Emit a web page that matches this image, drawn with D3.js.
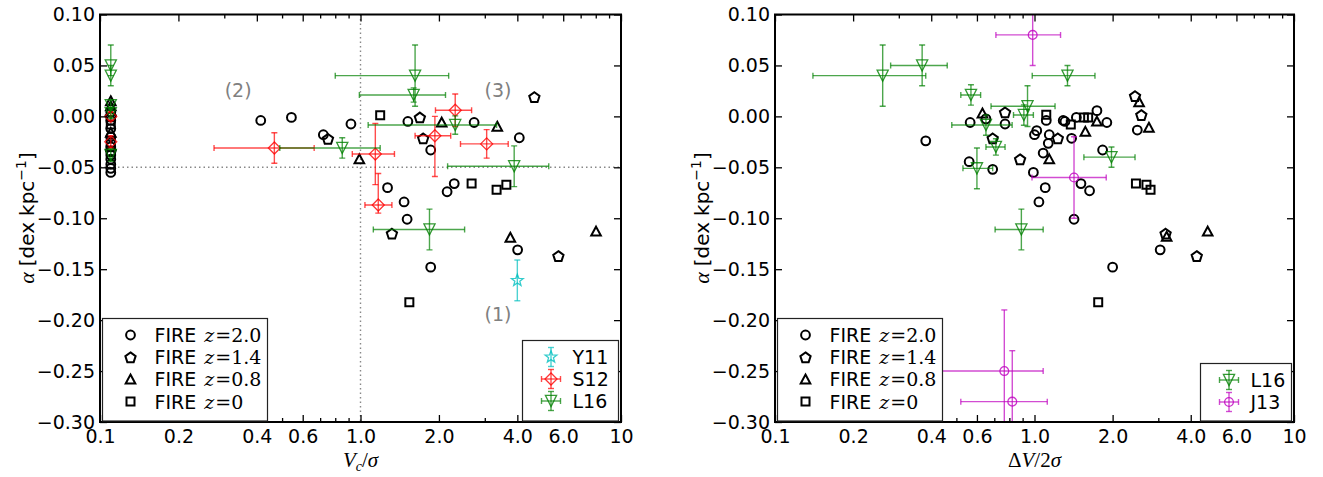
<!DOCTYPE html>
<html>
<head>
<meta charset="utf-8">
<script src="https://cdn.jsdelivr.net/npm/d3@7"></script>
<style>
body { margin: 0; background: #fff; }
text { font-family: "DejaVu Sans", sans-serif; }
</style>
</head>
<body>
<svg id="chart" width="1323" height="477"></svg>
<script>
// tick values shared by both panels
var xTickValues = [0.1, 0.2, 0.4, 0.6, 1, 2, 4, 6, 10];
var xTickLabels = ["0.1", "0.2", "0.4", "0.6", "1.0", "2.0", "4.0", "6.0", "10"];
var xMinorValues = [0.3, 0.5, 0.7, 0.8, 0.9, 3, 5, 7, 8, 9];
var yTickValues = [0.10, 0.05, 0.00, -0.05, -0.10, -0.15, -0.20, -0.25, -0.30];
var yTickLabels = ["0.10", "0.05", "0.00", "\u22120.05", "\u22120.10", "\u22120.15", "\u22120.20", "\u22120.25", "\u22120.30"];
var fireRedshifts = ["2.0", "1.4", "0.8", "0"];

// left panel, alpha vs Vc/sigma. FIRE points are [x, alpha]
var fireZ20_vc = [[0.11, 0.004], [0.11, -0.004], [0.11, -0.012], [0.11, -0.02], [0.11, -0.03], [0.11, -0.038],
  [0.11, -0.042], [0.11, -0.047], [0.11, -0.051], [0.11, -0.055],
  [0.414, -0.004], [0.543, -0.001], [0.72, -0.018], [0.919, -0.0075], [1.52, -0.005], [2.73, -0.006],
  [4.07, -0.021], [1.27, -0.07], [1.47, -0.084], [2.15, -0.074], [2.29, -0.066], [1.51, -0.101],
  [1.86, -0.148], [4.01, -0.131], [1.86, -0.033]];
var fireZ14_vc = [[0.11, 0.0], [0.11, -0.034], [0.75, -0.022], [1.69, -0.001], [1.74, -0.0215], [4.65, 0.019],
  [1.32, -0.115], [5.75, -0.137]];
var fireZ08_vc = [[0.11, 0.015], [0.11, 0.01], [0.11, -0.016], [0.99, -0.042], [2.05, -0.006], [3.35, -0.010],
  [3.76, -0.119], [8.02, -0.113]];
var fireZ0_vc = [[0.11, -0.008], [0.11, -0.026], [1.19, 0.001], [2.67, -0.066], [3.33, -0.072], [3.63, -0.067],
  [1.54, -0.1825]];

// observations: [x, alpha, xLow, xHigh, errUp, errDown]
var y11_vc = [[4.0, -0.161, null, null, 0.02, 0.02]];
var s12_vc = [[0.11, 0.0, null, null, 0.004, 0.004], [0.11, -0.025, null, null, 0.006, 0.006],
  [0.467, -0.031, 0.274, 0.664, 0.015, 0.015], [1.14, -0.037, 0.93, 1.35, 0.030, 0.030],
  [1.17, -0.087, 1.04, 1.32, 0.031, 0.008], [1.93, -0.019, 1.62, 2.22, 0.019, 0.040],
  [2.31, 0.006, 1.94, 2.67, 0.016, 0.016], [3.05, -0.027, 2.42, 3.69, 0.014, 0.014]];
var l16_vc = [[0.11, 0.05, null, null, 0.02, 0.01], [0.11, 0.04, null, null, 0.01, 0.01],
  [0.11, 0.011, null, null, 0.005, 0.005], [0.11, 0.003, null, null, 0.005, 0.005],
  [0.11, -0.038, null, null, 0.006, 0.006], [0.851, -0.031, 0.49, 1.19, 0.01, 0.01],
  [1.62, 0.04, 0.80, 2.18, 0.03, 0.03], [1.60, 0.021, 0.99, 2.12, 0.007, 0.007],
  [2.31, -0.0085, 1.07, 3.33, 0.009, 0.009], [3.89, -0.049, 2.16, 5.28, 0.02, 0.02],
  [1.84, -0.111, 1.12, 2.51, 0.02, 0.02]];

// right panel, alpha vs dV/2sigma
var fireZ20_dv = [[0.381, -0.024], [0.565, -0.006], [0.65, -0.0025], [0.77, -0.0075], [0.56, -0.0445],
  [0.69, -0.052], [0.99, -0.055], [1.10, -0.07], [1.11, -0.004], [1.02, -0.014], [1.0, -0.018],
  [1.13, -0.0265], [1.14, -0.018], [1.08, -0.036], [1.29, -0.004], [1.31, -0.005], [1.39, -0.0215],
  [1.45, -0.001], [1.04, -0.084], [1.42, -0.101], [1.51, -0.066], [1.63, -0.073], [1.83, -0.033],
  [1.74, 0.0056], [1.90, -0.006], [2.49, -0.0134], [3.05, -0.131], [2.00, -0.148]];
var fireZ14_dv = [[0.77, 0.004], [0.69, -0.0215], [0.88, -0.042], [1.23, -0.0215], [2.44, 0.020],
  [2.58, 0.0014], [3.20, -0.115], [4.22, -0.137]];
var fireZ08_dv = [[0.63, 0.003], [1.14, -0.042], [1.74, -0.005], [1.57, -0.015], [2.53, 0.014],
  [2.76, -0.011], [3.23, -0.118], [4.65, -0.113]];
var fireZ0_dv = [[1.11, 0.0015], [1.38, -0.008], [1.55, -0.001], [1.61, -0.001], [2.46, -0.066],
  [2.70, -0.067], [2.80, -0.072], [1.76, -0.1825]];
var l16_dv = [[0.26, 0.04, 0.14, 0.381, 0.03, 0.03], [0.369, 0.05, 0.279, 0.461, 0.02, 0.02],
  [0.569, 0.021, 0.52, 0.62, 0.01, 0.01], [0.94, 0.010, 0.68, 1.20, 0.02, 0.02],
  [0.91, 0.0013, 0.83, 0.99, 0.01, 0.01], [1.34, 0.04, 0.98, 1.71, 0.01, 0.01],
  [0.65, -0.0085, 0.48, 0.82, 0.01, 0.01], [0.71, -0.03, 0.65, 0.77, 0.008, 0.008],
  [0.60, -0.051, 0.53, 0.69, 0.02, 0.02], [1.98, -0.040, 1.55, 2.44, 0.01, 0.01],
  [0.89, -0.111, 0.705, 1.08, 0.02, 0.02]];
var j13_dv = [[0.984, 0.08, 0.71, 1.26, 0.03, 0.03], [1.42, -0.06, 0.978, 1.89, 0.04, 0.04],
  [0.765, -0.25, 0.42, 1.08, 0.06, 0.06], [0.821, -0.28, 0.52, 1.12, 0.05, 0.05]];

var svg = d3.select("#chart");
var plotTop = 14.5, plotBottom = 422;
var yScale = d3.scaleLinear().domain([-0.30, 0.10]).range([plotBottom, plotTop]);

var GREEN = "#008000", RED = "#ff0000", CYAN = "#00bfbf", MAGENTA = "#bf00bf";

function shapePath(shape) {
  var r, pts;
  if (shape == "circle") return d3.symbol(d3.symbolCircle, Math.PI * 4.4 * 4.4)();
  if (shape == "square") { r = 4; pts = [[-r, -r], [r, -r], [r, r], [-r, r]]; }
  if (shape == "pentagon") {
    r = 5.4;
    pts = d3.range(5).map(function (k) {
      var a = -Math.PI / 2 + k * 2 * Math.PI / 5;
      return [r * Math.cos(a), r * Math.sin(a) + 0.6];
    });
  }
  if (shape == "triUp") { r = 4.8; pts = [[0, -r], [r, r * 0.85], [-r, r * 0.85]]; }
  if (shape == "triDown") { r = 5.6; pts = [[0, r], [r, -r], [-r, -r]]; }
  if (shape == "diamond") { r = 6; pts = [[0, -r], [r, 0], [0, r], [-r, 0]]; }
  if (shape == "star") {
    pts = d3.range(10).map(function (k) {
      var a = -Math.PI / 2 + k * Math.PI / 5, rr = k % 2 ? 2.6 : 6.2;
      return [rr * Math.cos(a), rr * Math.sin(a)];
    });
  }
  return "M" + pts.map(function (p) { return p[0].toFixed(2) + "," + p[1].toFixed(2); }).join("L") + "Z";
}

function marker(layer, shape, cx, cy, color, width, opacity) {
  layer.append("path")
    .attr("d", shapePath(shape))
    .attr("transform", "translate(" + cx + "," + cy + ")")
    .attr("fill", "none")
    .attr("stroke", color)
    .attr("stroke-opacity", opacity)
    .attr("stroke-width", width);
}

function bar(layer, x1, y1, x2, y2) {
  layer.append("line").attr("x1", x1).attr("y1", y1).attr("x2", x2).attr("y2", y2);
}

function drawFire(layer, xS, data, shape) {
  data.forEach(function (d) {
    marker(layer, shape, xS(d[0]), yScale(d[1]), "#000", 2, 1);
  });
}

function drawErrors(layer, xS, data, color, shape) {
  data.forEach(function (d) {
    var cx = xS(d[0]), cy = yScale(d[1]);
    var bars = layer.append("g").attr("stroke", color).attr("stroke-opacity", 0.7).attr("stroke-width", 1.4);
    if (d[2] != null) {
      var x1 = xS(d[2]), x2 = xS(d[3]);
      bar(bars, x1, cy, x2, cy);
      bar(bars, x1, cy - 3, x1, cy + 3);
      bar(bars, x2, cy - 3, x2, cy + 3);
    }
    var y1 = yScale(d[1] + d[4]), y2 = yScale(d[1] - d[5]);
    bar(bars, cx, y1, cx, y2);
    bar(bars, cx - 3, y1, cx + 3, y1);
    bar(bars, cx - 3, y2, cx + 3, y2);
    marker(layer, shape, cx, cy, color, 1.3, 0.8);
  });
}

function makePanel(left, right, id) {
  var x = d3.scaleLog().domain([0.1, 10]).range([left, right]);
  svg.append("clipPath").attr("id", id).append("rect")
    .attr("x", left).attr("y", plotTop)
    .attr("width", right - left).attr("height", plotBottom - plotTop);
  var g = svg.append("g");
  var plot = g.append("g").attr("clip-path", "url(#" + id + ")");
  return { x: x, g: g, plot: plot, left: left, right: right };
}

function styleAxis(sel) {
  sel.select(".domain").remove();
  sel.selectAll("line").attr("stroke", "#000").attr("stroke-width", 1.3);
  sel.selectAll("text").attr("font-size", 19).attr("font-family", "DejaVu Sans").attr("fill", "#000");
}

function drawAxes(p) {
  var fmt = function (d, i) { return xTickLabels[i]; };
  p.g.append("g").attr("transform", "translate(0," + plotBottom + ")")
    .call(d3.axisBottom(p.x).tickValues(xTickValues).tickFormat(fmt).tickSizeInner(-7).tickSizeOuter(0).tickPadding(8))
    .call(styleAxis);
  p.g.append("g").attr("transform", "translate(0," + plotBottom + ")")
    .call(d3.axisBottom(p.x).tickValues(xMinorValues).tickFormat("").tickSizeInner(-4).tickSizeOuter(0))
    .call(styleAxis);
  p.g.append("g").attr("transform", "translate(0," + plotTop + ")")
    .call(d3.axisTop(p.x).tickValues(xTickValues).tickFormat("").tickSizeInner(-7).tickSizeOuter(0))
    .call(styleAxis);
  p.g.append("g").attr("transform", "translate(0," + plotTop + ")")
    .call(d3.axisTop(p.x).tickValues(xMinorValues).tickFormat("").tickSizeInner(-4).tickSizeOuter(0))
    .call(styleAxis);
  p.g.append("g").attr("transform", "translate(" + p.left + ",0)")
    .call(d3.axisLeft(yScale).tickValues(yTickValues).tickFormat(function (d, i) { return yTickLabels[i]; })
      .tickSizeInner(-7).tickSizeOuter(0).tickPadding(5))
    .call(styleAxis);
  p.g.append("g").attr("transform", "translate(" + p.right + ",0)")
    .call(d3.axisRight(yScale).tickValues(yTickValues).tickFormat("").tickSizeInner(-7).tickSizeOuter(0))
    .call(styleAxis);
  p.g.append("rect")
    .attr("x", p.left).attr("y", plotTop)
    .attr("width", p.right - p.left).attr("height", plotBottom - plotTop)
    .attr("fill", "none").attr("stroke", "#000").attr("stroke-width", 2);

  // y axis title, kept left of the tick labels
  var yl = p.g.append("text")
    .attr("transform", "translate(" + (p.left - 66) + ",218) rotate(-90)")
    .attr("text-anchor", "middle").attr("font-size", 20);
  yl.append("tspan").attr("font-family", "Liberation Serif").attr("font-style", "italic").attr("font-size", 22).text("\u03b1");
  yl.append("tspan").attr("dx", 6).text("[dex");
  yl.append("tspan").attr("dx", 6).text("kpc");
  yl.append("tspan").attr("font-size", 14).attr("dy", -8).text("\u22121");
  yl.append("tspan").attr("dy", 8).text("]");
}

function serifSpan(t, txt, italic) {
  return t.append("tspan").attr("font-family", "Liberation Serif")
    .attr("font-style", italic ? "italic" : "normal").text(txt);
}

function fireLegend(p) {
  var x0 = p.left + 2.5, y0 = 318.5;
  var lg = p.g.append("g");
  lg.append("rect").attr("x", x0).attr("y", y0).attr("width", 165).attr("height", 102.5)
    .attr("fill", "#fff").attr("stroke", "#222").attr("stroke-width", 1.2);
  var shapes = ["circle", "pentagon", "triUp", "square"];
  shapes.forEach(function (s, i) {
    var cy = 335 + i * 22.2;
    marker(lg, s, x0 + 28, cy, "#000", 2, 1);
    var t = lg.append("text").attr("x", x0 + 52).attr("y", cy + 7).attr("font-size", 19);
    t.append("tspan").text("FIRE");
    t.append("tspan").attr("dx", 8).attr("font-family", "DejaVu Serif").attr("font-style", "italic").text("z");
    t.append("tspan").attr("dx", 1).attr("font-family", "DejaVu Serif").text("=" + fireRedshifts[i]);
  });
}

function obsLegend(p, x0, y0, w, items) {
  var lg = p.g.append("g");
  lg.append("rect").attr("x", x0).attr("y", y0).attr("width", w).attr("height", 421 - y0)
    .attr("fill", "#fff").attr("stroke", "#222").attr("stroke-width", 1.2);
  items.forEach(function (it, i) {
    var cx = x0 + 28.5, cy = y0 + 16.5 + i * 22;
    var bars = lg.append("g").attr("stroke", it.color).attr("stroke-opacity", 0.7).attr("stroke-width", 1.4);
    if (it.xerr) {
      bar(bars, cx - 9.5, cy, cx + 9.5, cy);
      bar(bars, cx - 9.5, cy - 3, cx - 9.5, cy + 3);
      bar(bars, cx + 9.5, cy - 3, cx + 9.5, cy + 3);
    }
    bar(bars, cx, cy - 9.5, cx, cy + 9.5);
    bar(bars, cx - 3, cy - 9.5, cx + 3, cy - 9.5);
    bar(bars, cx - 3, cy + 9.5, cx + 3, cy + 9.5);
    marker(lg, it.shape, cx, cy, it.color, 1.3, 0.8);
    lg.append("text").attr("x", x0 + 50).attr("y", cy + 7).attr("font-size", 19).text(it.name);
  });
}

// ---- left panel ----
var pL = makePanel(100, 621, "clipL");
pL.plot.append("line")
  .attr("x1", pL.x(1)).attr("x2", pL.x(1)).attr("y1", plotTop).attr("y2", plotBottom)
  .attr("stroke", "#888").attr("stroke-width", 1.4).attr("stroke-dasharray", "1.5,3");
pL.plot.append("line")
  .attr("x1", pL.left).attr("x2", pL.right).attr("y1", yScale(-0.05)).attr("y2", yScale(-0.05))
  .attr("stroke", "#888").attr("stroke-width", 1.4).attr("stroke-dasharray", "1.5,3");

drawFire(pL.plot, pL.x, fireZ20_vc, "circle");
drawFire(pL.plot, pL.x, fireZ14_vc, "pentagon");
drawFire(pL.plot, pL.x, fireZ08_vc, "triUp");
drawFire(pL.plot, pL.x, fireZ0_vc, "square");
drawErrors(pL.plot, pL.x, y11_vc, CYAN, "star");
drawErrors(pL.plot, pL.x, s12_vc, RED, "diamond");
drawErrors(pL.plot, pL.x, l16_vc, GREEN, "triDown");

// numbered notes
[["(2)", 0.339, 0.026], ["(3)", 3.37, 0.026], ["(1)", 3.37, -0.194]].forEach(function (a) {
  pL.g.append("text").attr("x", pL.x(a[1])).attr("y", yScale(a[2])).attr("dy", "0.36em")
    .attr("text-anchor", "middle").attr("font-size", 19).attr("fill", "#808080").text(a[0]);
});

drawAxes(pL);
fireLegend(pL);
obsLegend(pL, 522.5, 340.5, 96, [
  { name: "Y11", color: CYAN, shape: "star", xerr: false },
  { name: "S12", color: RED, shape: "diamond", xerr: true },
  { name: "L16", color: GREEN, shape: "triDown", xerr: true }
]);

var xl = pL.g.append("text").attr("x", pL.x(1)).attr("y", 467).attr("text-anchor", "middle").attr("font-size", 21);
serifSpan(xl, "V", true);
serifSpan(xl, "c", true).attr("font-size", 14).attr("dy", 4);
serifSpan(xl, "/", false).attr("dy", -4);
serifSpan(xl, "\u03c3", true);

// ---- right panel ----
var pR = makePanel(775, 1294, "clipR");
drawFire(pR.plot, pR.x, fireZ20_dv, "circle");
drawFire(pR.plot, pR.x, fireZ14_dv, "pentagon");
drawFire(pR.plot, pR.x, fireZ08_dv, "triUp");
drawFire(pR.plot, pR.x, fireZ0_dv, "square");
drawErrors(pR.plot, pR.x, l16_dv, GREEN, "triDown");
drawErrors(pR.plot, pR.x, j13_dv, MAGENTA, "circle");

drawAxes(pR);
fireLegend(pR);
obsLegend(pR, 1200.5, 363.5, 91, [
  { name: "L16", color: GREEN, shape: "triDown", xerr: true },
  { name: "J13", color: MAGENTA, shape: "circle", xerr: true }
]);

var xr = pR.g.append("text").attr("x", pR.x(1)).attr("y", 467).attr("text-anchor", "middle").attr("font-size", 21);
serifSpan(xr, "\u0394", false);
serifSpan(xr, "V", true);
serifSpan(xr, "/2", false);
serifSpan(xr, "\u03c3", true);
</script>
</body>
</html>
